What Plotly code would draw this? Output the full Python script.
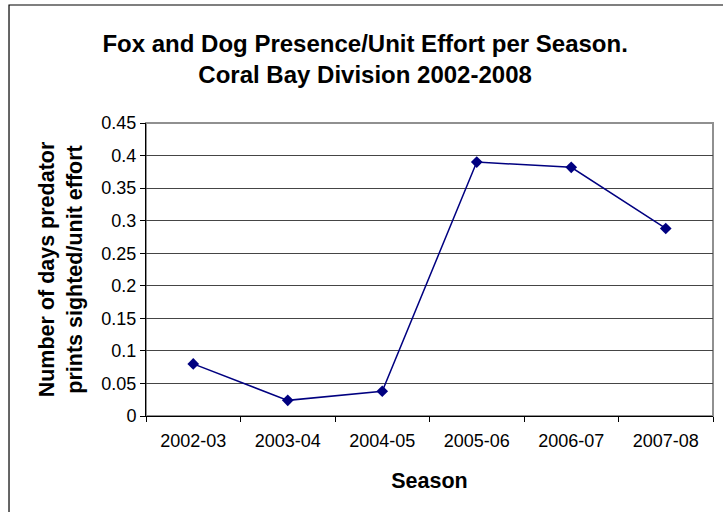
import plotly.graph_objects as go

seasons = ["2002-03", "2003-04", "2004-05", "2005-06", "2006-07", "2007-08"]
presence = [0.080, 0.024, 0.038, 0.390, 0.382, 0.288]
y_ticks = [0, 0.05, 0.1, 0.15, 0.2, 0.25, 0.3, 0.35, 0.4, 0.45]

font = "Liberation Sans, Arial, sans-serif"

fig = go.Figure()
fig.add_trace(
    go.Scatter(
        x=seasons,
        y=presence,
        mode="lines+markers",
        line=dict(color="#000080", width=1.5),
        marker=dict(symbol="diamond", size=9, color="#000080"),
        showlegend=False,
    )
)

# chart outer border (only top/left visible in the picture)
fig.add_shape(type="rect", xref="paper", yref="paper",
              x0=-0.2416, x1=1.05, y0=-0.38, y1=1.4027,
              line=dict(color="black", width=1.2), layer="below")
# plot area border
fig.add_shape(type="rect", xref="paper", yref="paper",
              x0=0, x1=1, y0=0, y1=1,
              line=dict(color="#909090", width=2), layer="below")

fig.update_layout(
    width=723,
    height=512,
    margin=dict(l=146, r=10, t=123, b=96),
    paper_bgcolor="white",
    plot_bgcolor="white",
    font=dict(family=font, color="black"),
    title=dict(
        text="<b>Fox and Dog Presence/Unit Effort per Season.<br>Coral Bay Division 2002-2008</b>",
        x=0.505, xanchor="center", y=0.898, yanchor="middle",
        font=dict(size=24, family=font),
    ),
)
fig.update_xaxes(
    type="category",
    range=[-0.5, len(seasons) - 0.5],
    tickson="boundaries",
    ticks="outside",
    ticklen=5,
    tickcolor="black",
    ticklabelstandoff=8,
    showline=True,
    linecolor="black",
    linewidth=1,
    showgrid=False,
    tickfont=dict(size=18),
    title=dict(text="<b>Season</b>", font=dict(size=21.5), standoff=23),
)
fig.update_yaxes(
    range=[0, 0.45],
    tickvals=y_ticks,
    ticktext=[f"{v:g}" for v in y_ticks],
    ticks="outside",
    ticklen=5,
    tickcolor="black",
    showline=True,
    linecolor="black",
    linewidth=1,
    showgrid=True,
    gridcolor="#454545",
    gridwidth=1,
    zeroline=False,
    tickfont=dict(size=18),
    title=dict(text="<b>Number of days predator<br>prints sighted/unit effort</b>",
               font=dict(size=21.5), standoff=12),
)

fig.write_html("out.html", config={"displayModeBar": False},
               post_script="document.body.style.margin='0';")
